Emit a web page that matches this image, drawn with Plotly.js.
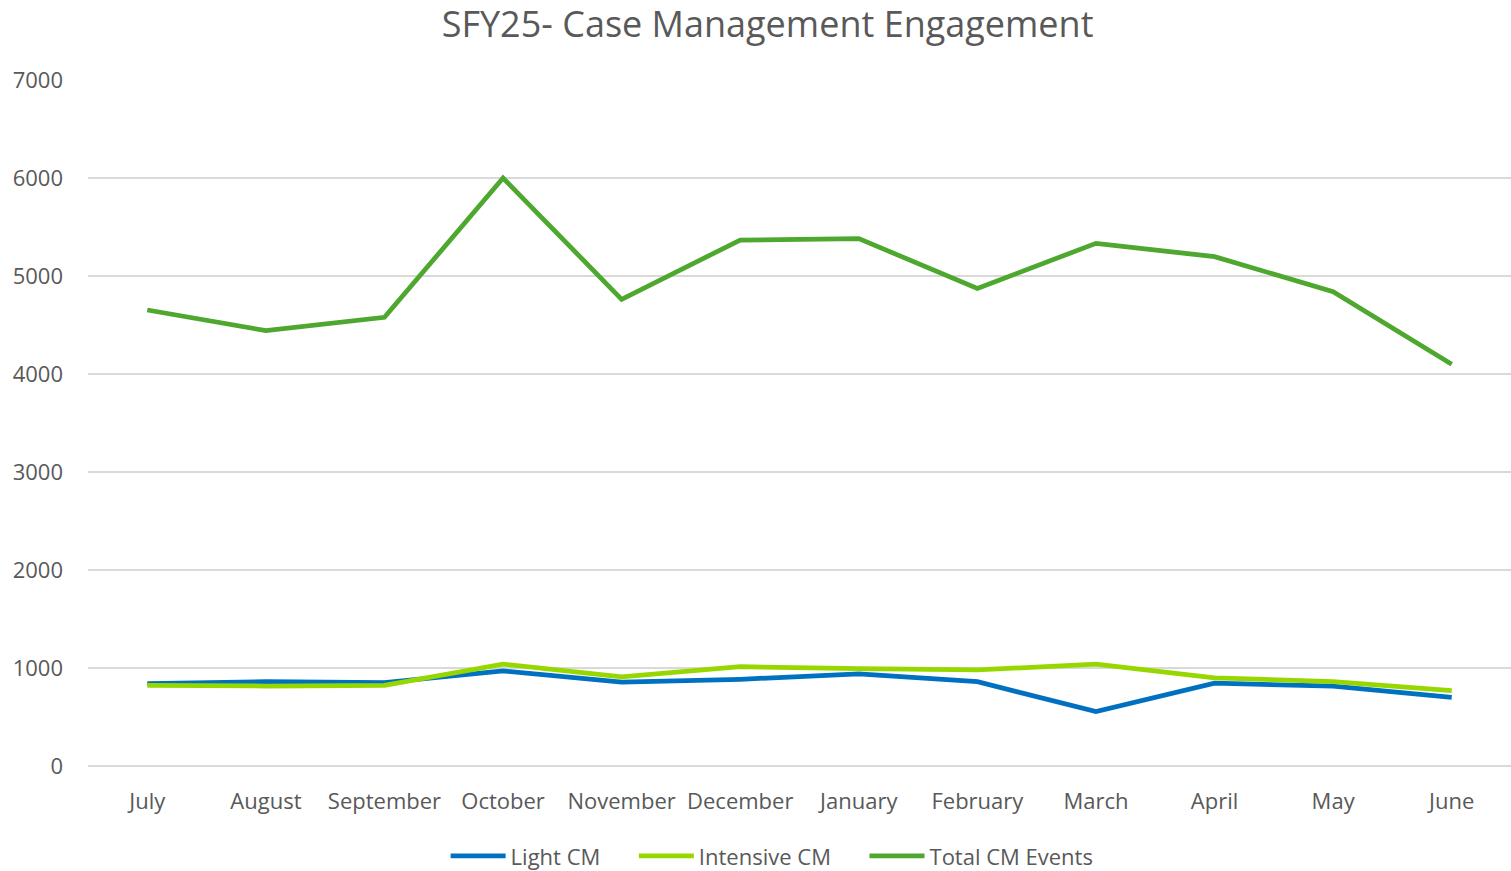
<!DOCTYPE html>
<html>
<head>
<meta charset="utf-8">
<script src="https://cdn.plot.ly/plotly-3.0.1.min.js"></script>
<style>html,body{margin:0;padding:0;background:#fff;}#chart{width:1511px;height:871px;}</style>
</head>
<body>
<div id="chart"></div>
<script>
const months = ["July","August","September","October","November","December","January","February","March","April","May","June"];
const lightCM = [840, 860, 850, 970, 855, 885, 940, 860, 555, 845, 815, 700];
const intensiveCM = [823, 816, 823, 1040, 910, 1013, 993, 980, 1040, 900, 860, 769];
const totalCM = [4653, 4442, 4578, 6000, 4762, 5367, 5381, 4874, 5333, 5197, 4840, 4099];

const seriesNames = ["Light CM","Intensive CM","Total CM Events"];
const seriesData = [lightCM, intensiveCM, totalCM];
const seriesColors = ["#0070C0","#97D700","#4EA72E"];
const pad = "\u00a0\u00a0\u00a0\u00a0\u00a0";

const traces = seriesData.map((d,i)=>({
  type:"scatter", mode:"lines", name:seriesNames[i] + (i<2 ? pad : ""),
  x:months, y:d,
  line:{color:seriesColors[i], width:4.75, shape:"linear"},
  hoverinfo:"x+y+name"
}));

const layout = {
  width:1511, height:871,
  paper_bgcolor:"#fff", plot_bgcolor:"#fff",
  font:{family:"Open Sans, sans-serif", color:"#595959", size:22},
  margin:{l:88, r:0, t:80, b:105},
  title:{text:"SFY25- Case Management Engagement", font:{size:36, color:"#595959"}, x:0.508, xref:"container", y:0.972, yref:"container", yanchor:"middle"},
  xaxis:{type:"category", range:[-0.5,11.5], showgrid:false, zeroline:false, showline:false, ticks:"", ticklabelstandoff:20, tickfont:{size:22,color:"#595959"}, fixedrange:true},
  yaxis:{range:[0,7000], dtick:1000, tick0:0, showgrid:true, gridcolor:"#D9D9D9", gridwidth:1.5, zeroline:true, zerolinecolor:"#D9D9D9", zerolinewidth:1.5, showline:false, ticks:"", ticklabelstandoff:24, tickfont:{size:22,color:"#595959"}, fixedrange:true},
  legend:{orientation:"h", xref:"container", yref:"container", x:0.511, xanchor:"center", y:0.017, yanchor:"middle", font:{size:22,color:"#595959"}, itemwidth:55, traceorder:"normal"},
  showlegend:true
};

Plotly.newPlot("chart", traces, layout, {displayModeBar:false, staticPlot:true});
</script>
</body>
</html>
